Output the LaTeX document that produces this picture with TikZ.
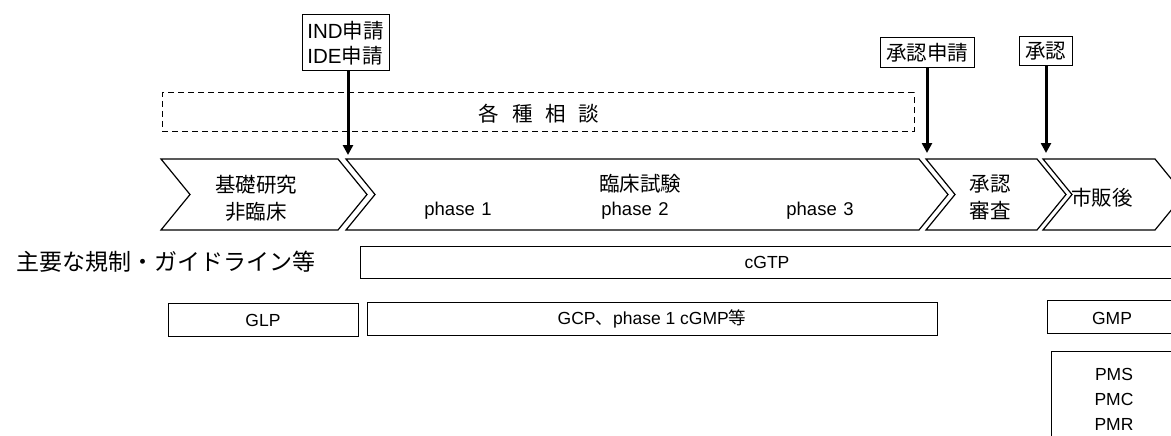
\documentclass[tikz,border=0pt]{standalone}
\usepackage{fontspec}
\setmainfont{Noto Sans CJK JP}
\newfontfamily\lat{Liberation Sans}
\usetikzlibrary{arrows.meta}
\begin{document}
\begin{tikzpicture}[x=1pt,y=-1pt,
  chev/.style={draw=black,line width=1.2pt,line join=miter},
  lbox/.style={draw=black,line width=1pt,inner sep=0pt,anchor=north west},
  callout/.style={draw=black,line width=1pt,inner sep=0pt,align=left,font=\fontsize{20.5}{25}\selectfont},
  ctext/.style={inner sep=0pt,align=center,font=\fontsize{20.5}{27}\selectfont},
  ptext/.style={inner sep=0pt,font=\lat\fontsize{18.5}{20}\selectfont},
  btext/.style={inner sep=0pt,align=center,font=\lat\fontsize{17.5}{25}\selectfont},
  bigarrow/.style={line width=3pt,-{Triangle[width=10pt,length=10pt]}}
]
\useasboundingbox (0,0) rectangle (1171,436);
\clip (0,0) rectangle (1171,436);

% callout boxes
\node[callout,minimum width=87pt,minimum height=56pt] (ind) at (345.5,43) {{\lat IND}申請\\{\lat IDE}申請};
\node[callout,minimum width=94pt,minimum height=30pt] (shinsei) at (927,53) {承認申請};
\node[callout,minimum width=53pt,minimum height=29pt] (shonin) at (1045.5,51.5) {承認};

% dashed consultation box
\node[draw=black,line width=1pt,dash pattern=on 6pt off 4pt,minimum width=752pt,minimum height=38pt,inner sep=0pt] (soudan) at (538,112) {};
\node[ctext] (soudantxt) at (539,114) {各\hspace{13pt}種\hspace{13pt}相\hspace{13pt}談};

% chevrons
\draw[chev] (161,159) -- (338,159) -- (367,194.5) -- (338,230) -- (161,230) -- (190,194.5) -- cycle;
\draw[chev] (346,159) -- (919,159) -- (948,194.5) -- (919,230) -- (346,230) -- (375,194.5) -- cycle;
\draw[chev] (926,159) -- (1037,159) -- (1066,194.5) -- (1037,230) -- (926,230) -- (955,194.5) -- cycle;
\draw[chev] (1043,159) -- (1155,159) -- (1184,194.5) -- (1155,230) -- (1043,230) -- (1072,194.5) -- cycle;
\coordinate (c2top) at (348,155);
\coordinate (c3top) at (927,153);
\coordinate (c4top) at (1046,153);

% chevron texts
\node[ctext] (kiso) at (256,198) {基礎研究\\非臨床};
\node[ctext] (rinsho) at (640,184) {臨床試験};
\node[ptext] (ph1) at (458,211) {phase\hspace{0.35em}1};
\node[ptext] (ph2) at (635,211) {phase\hspace{0.35em}2};
\node[ptext] (ph3) at (820,211) {phase\hspace{0.35em}3};
\node[ctext] (shinsa) at (990,198) {承認\\審査};
\node[ctext] (shihan) at (1102,198) {市販後};

% arrows
\draw[bigarrow] (ind.south -| c2top) -- (c2top);
\draw[bigarrow] (shinsei.south -| c3top) -- (c3top);
\draw[bigarrow] (shonin.south -| c4top) -- (c4top);

% regulations
\node[inner sep=0pt,anchor=west,font=\fontsize{23}{26}\selectfont] (kisei) at (16,262) {主要な規制・ガイドライン等};
\node[lbox,minimum width=830pt,minimum height=32pt] (cgtp) at (360,246) {};
\node[btext] (cgtptxt) at (767,262) {cGTP};
\node[lbox,minimum width=190pt,minimum height=33pt] (glp) at (168,303) {};
\node[btext] (glptxt) at (263,320) {GLP};
\node[lbox,minimum width=570pt,minimum height=33pt] (gcp) at (367,302) {};
\node[btext] (gcptxt) at (652,319) {GCP\fontspec{Noto Sans CJK JP}、\lat phase 1 cGMP\fontspec{Noto Sans CJK JP}等};
\node[lbox,minimum width=140pt,minimum height=33pt] (gmp) at (1047,300) {};
\node[btext] (gmptxt) at (1112,318) {GMP};
\node[lbox,minimum width=140pt,minimum height=110pt] (pms) at (1051,351) {};
\node[btext] (pmstxt) at (1114,399) {PMS\\PMC\\PMR};
\end{tikzpicture}
\end{document}
